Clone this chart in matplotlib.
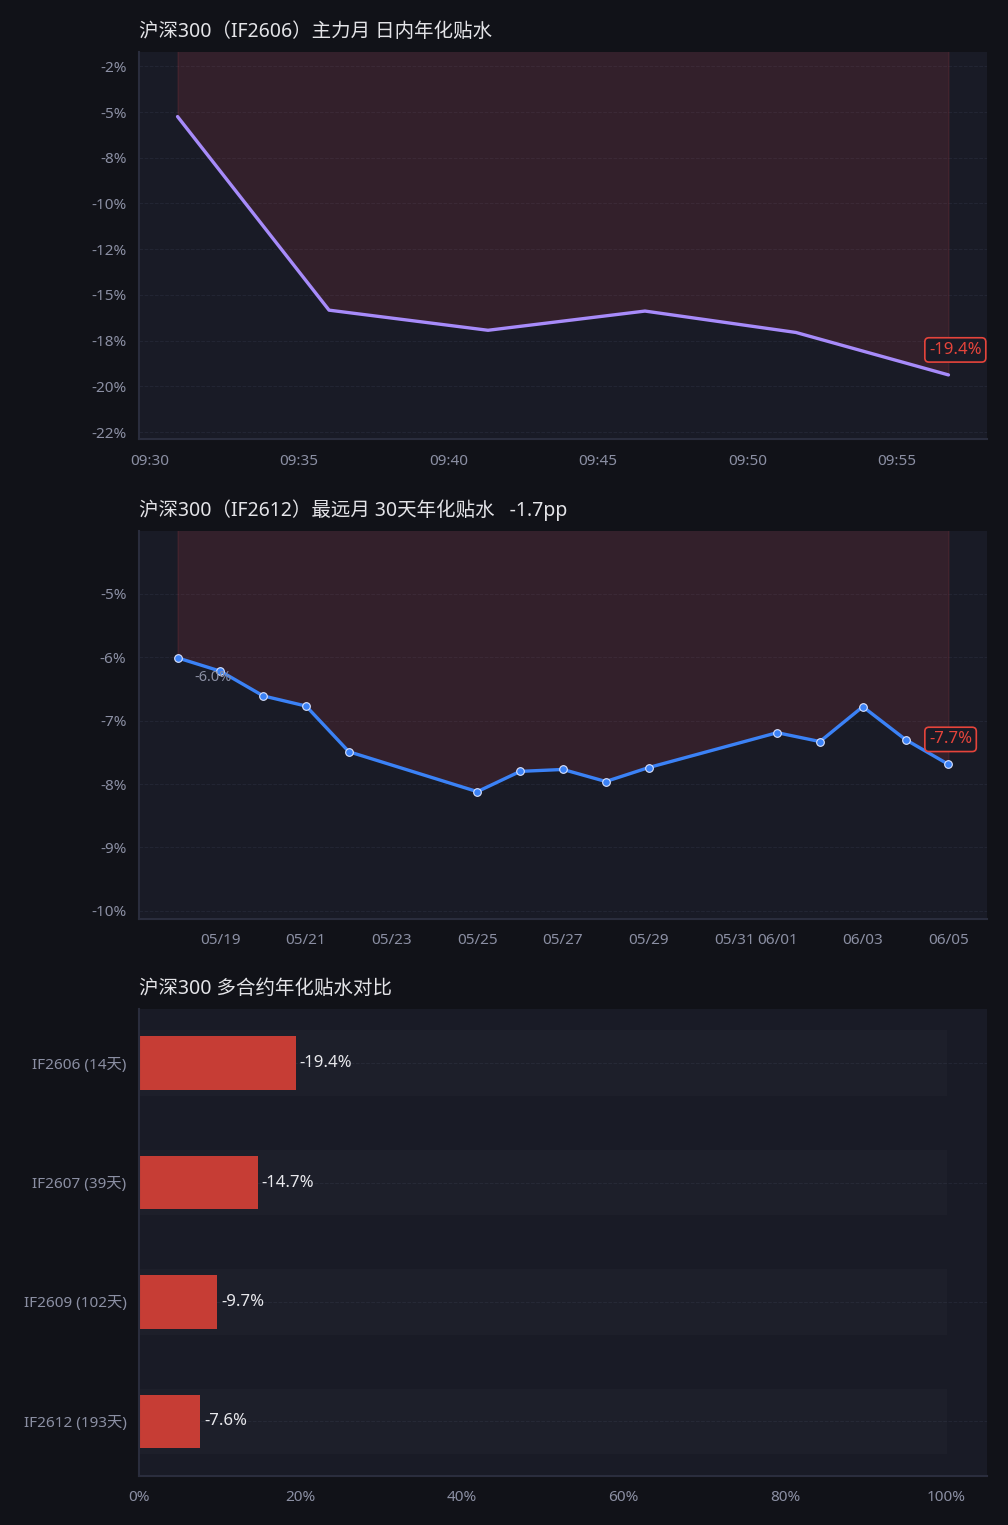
import matplotlib
matplotlib.use("Agg")
import matplotlib.pyplot as plt
import matplotlib.dates as mdates
from matplotlib.ticker import MultipleLocator, FuncFormatter
import pandas as pd

plt.rcParams['font.family'] = ['Noto Sans', 'Noto Sans CJK SC', 'DejaVu Sans']
plt.rcParams['axes.unicode_minus'] = False

# 日内数据 IF2606
intraday_times = ["09:30:56", "09:36:00", "09:41:19", "09:46:34", "09:51:37", "09:56:43"]
intraday_vals = [-5.25, -15.83, -16.93, -15.88, -17.05, -19.37]

# 30天数据 IF2612
daily_dates = ["2026-05-18", "2026-05-19", "2026-05-20", "2026-05-21", "2026-05-22",
               "2026-05-25", "2026-05-26", "2026-05-27", "2026-05-28", "2026-05-29",
               "2026-06-01", "2026-06-02", "2026-06-03", "2026-06-04", "2026-06-05"]
daily_vals = [-6.01, -6.22, -6.61, -6.77, -7.49, -8.12, -7.80, -7.77, -7.96, -7.74,
              -7.19, -7.33, -6.78, -7.30, -7.69]

# 多合约对比
contracts = ["IF2606 (14天)", "IF2607 (39天)", "IF2609 (102天)", "IF2612 (193天)"]
contract_vals = [-19.4, -14.7, -9.7, -7.6]

BG = '#111218'
AX_BG = '#191b26'
GRID = '#232634'
SPINE = '#2a2d3d'
TICK = '#8b8fa3'
TITLE = '#e4e4e8'
RED = '#e5443b'

fig = plt.figure(figsize=(10.08, 15.25), dpi=100, facecolor=BG)
L, W = 139 / 1008, 848 / 1008
ax1 = fig.add_axes([L, 1 - 439.5 / 1525, W, 387.5 / 1525])
ax2 = fig.add_axes([L, 1 - 918.5 / 1525, W, 387.5 / 1525])
ax3 = fig.add_axes([L, 1 - 1475.5 / 1525, W, 466.5 / 1525])


def style(ax):
    ax.set_facecolor(AX_BG)
    for s in ['top', 'right']:
        ax.spines[s].set_visible(False)
    for s in ['left', 'bottom']:
        ax.spines[s].set_color(SPINE)
        ax.spines[s].set_linewidth(1.5)
    ax.tick_params(colors=TICK, labelsize=11, length=0, pad=9)
    ax.tick_params(axis='x', pad=10.5)
    ax.grid(axis='y', color=GRID, linestyle='--', linewidth=0.7)
    ax.set_axisbelow(True)


def pad_ylim(ax, vals):
    lo, hi = min(vals), max(vals)
    p = max(2, (hi - lo) * 0.25)
    ax.set_ylim(lo - p, hi + p)


pct = FuncFormatter(lambda v, _: f"{v:.0f}%")

# 图1
t1 = pd.to_datetime(["2026-06-05 " + t for t in intraday_times])
style(ax1)
ax1.fill_between(t1, intraday_vals, 0, color='#e5484d', alpha=0.13, linewidth=1)
ax1.plot(t1, intraday_vals, color='#a78bfa', linewidth=2.4, solid_capstyle='round')
pad_ylim(ax1, intraday_vals)
ax1.yaxis.set_major_locator(MultipleLocator(2.5))
ax1.yaxis.set_major_formatter(pct)
ax1.xaxis.set_major_locator(mdates.MinuteLocator(byminute=range(0, 60, 5)))
ax1.xaxis.set_major_formatter(mdates.DateFormatter('%H:%M'))
ax1.set_title("沪深300（IF2606）主力月 日内年化贴水", loc='left', color=TITLE,
              fontsize=14, pad=11)
ax1.annotate(f"{intraday_vals[-1]:.1f}%", (t1[-1], intraday_vals[-1]),
             xytext=(-14, 18), textcoords='offset points', ha='left', va='center',
             color=RED, fontsize=12,
             bbox=dict(boxstyle='round,pad=0.25', fc=AX_BG, ec=RED, lw=1.2))

# 图2
t2 = pd.to_datetime(daily_dates)
style(ax2)
ax2.fill_between(t2, daily_vals, 0, color='#e5484d', alpha=0.13, linewidth=1)
ax2.plot(t2, daily_vals, color='#3b82f6', linewidth=2.4, marker='o', markersize=5.5,
         markeredgecolor='#dbe4ff', markeredgewidth=0.8)
pad_ylim(ax2, daily_vals)
ax2.yaxis.set_major_locator(MultipleLocator(1))
ax2.yaxis.set_major_formatter(pct)
ax2.xaxis.set_major_locator(mdates.DayLocator(bymonthday=range(1, 32, 2)))
ax2.xaxis.set_major_formatter(mdates.DateFormatter('%m/%d'))
chg = daily_vals[-1] - daily_vals[0]
ax2.set_title(f"沪深300（IF2612）最远月 30天年化贴水   {chg:.1f}pp", loc='left',
              color=TITLE, fontsize=14, pad=11)
ax2.annotate(f"{daily_vals[0]:.1f}%", (t2[0], daily_vals[0]),
             xytext=(12, -14), textcoords='offset points', ha='left', va='center',
             color=TICK, fontsize=10.5)
ax2.annotate(f"{daily_vals[-1]:.1f}%", (t2[-1], daily_vals[-1]),
             xytext=(-14, 18), textcoords='offset points', ha='left', va='center',
             color=RED, fontsize=12,
             bbox=dict(boxstyle='round,pad=0.25', fc=AX_BG, ec=RED, lw=1.2))

# 图3
style(ax3)
pos = list(range(len(contracts)))
ax3.barh(pos, [100] * len(pos), height=0.55, color='white', alpha=0.02)
bars = ax3.barh(pos, [abs(v) for v in contract_vals], height=0.45, color='#c63d35')
for b, v in zip(bars, contract_vals):
    ax3.text(b.get_width() + 0.5, b.get_y() + b.get_height() / 2, f"{v:.1f}%",
             va='center', ha='left', color='#e8e8ec', fontsize=12)
ax3.set_yticks(pos)
ax3.set_yticklabels(contracts)
ax3.invert_yaxis()
ax3.set_xticks(range(0, 101, 20))
ax3.xaxis.set_major_formatter(pct)
ax3.set_title("沪深300 多合约年化贴水对比", loc='left', color=TITLE, fontsize=14, pad=11)

fig.savefig("out.png", dpi=100, facecolor=BG)
